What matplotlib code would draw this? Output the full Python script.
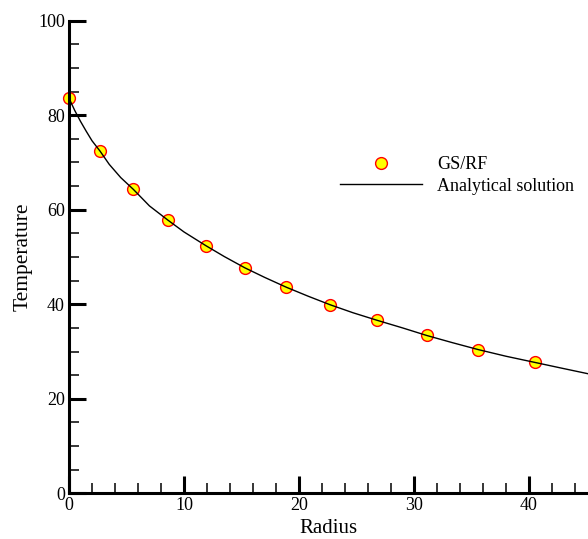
import matplotlib
matplotlib.use("Agg")
import matplotlib.pyplot as plt
from matplotlib.ticker import MultipleLocator

plt.rcParams['font.family'] = ['Liberation Serif', 'DejaVu Serif']

# GS/RF simulation points
radius_pts = [0.0, 2.7, 5.6, 8.6, 11.9, 15.3, 18.9, 22.7, 26.8, 31.1, 35.6, 40.5]
temp_pts = [83.6, 72.4, 64.3, 57.8, 52.4, 47.7, 43.6, 39.9, 36.6, 33.4, 30.4, 27.7]

# analytical curve
radius_line = [0.0, 0.5, 1.0, 1.5, 2.0, 2.7, 3.5, 4.5, 5.6, 7.0, 8.6, 10.0,
               11.9, 13.5, 15.3, 17.0, 18.9, 20.8, 22.7, 24.7, 26.8, 29.0,
               31.1, 33.3, 35.6, 38.0, 40.5, 42.8, 45.13]
temp_line = [83.6, 81.0, 78.7, 76.6, 74.6, 72.4, 69.6, 66.8, 64.3, 60.8, 57.8, 55.3,
             52.4, 50.1, 47.7, 45.7, 43.6, 41.7, 39.9, 38.2, 36.6, 35.0,
             33.4, 31.9, 30.4, 29.0, 27.7, 26.5, 25.3]

fig = plt.figure(figsize=(5.88, 5.39), dpi=100)
ax = fig.add_axes([69 / 588, 1 - 493.3 / 539, 1 - 69 / 588, (493.3 - 20.7) / 539])

ax.plot(radius_pts, temp_pts, 'o', markersize=8.5, markerfacecolor='#ffff00',
        markeredgecolor='#ff0000', markeredgewidth=1.0, label='GS/RF',
        zorder=2, clip_on=False)
ax.plot(radius_line, temp_line, '-', color='black', linewidth=1.0,
        label='Analytical solution', zorder=3)

ax.set_xlim(0, 45.13)
ax.set_ylim(0, 100)

for s in ['top', 'right']:
    ax.spines[s].set_visible(False)
for s in ['left', 'bottom']:
    ax.spines[s].set_linewidth(2.2)

ax.xaxis.set_major_locator(MultipleLocator(10))
ax.xaxis.set_minor_locator(MultipleLocator(2))
ax.yaxis.set_major_locator(MultipleLocator(20))
ax.yaxis.set_minor_locator(MultipleLocator(5))
ax.tick_params(which='major', direction='in', length=12, width=2.2,
               labelsize=13, pad=3)
ax.tick_params(which='minor', direction='in', length=7, width=1.1)

ax.set_xlabel('Radius', fontsize=15, labelpad=3)
ax.set_ylabel('Temperature', fontsize=15.5, labelpad=4)

ax.legend(loc='upper left', bbox_to_anchor=(340 / 588, 1 - 156 / 539),
          bbox_transform=fig.transFigure, frameon=False, fontsize=13,
          handlelength=4.55, handletextpad=0.83, labelspacing=0.25,
          borderpad=0, borderaxespad=0)

fig.savefig('out.png', dpi=100)
